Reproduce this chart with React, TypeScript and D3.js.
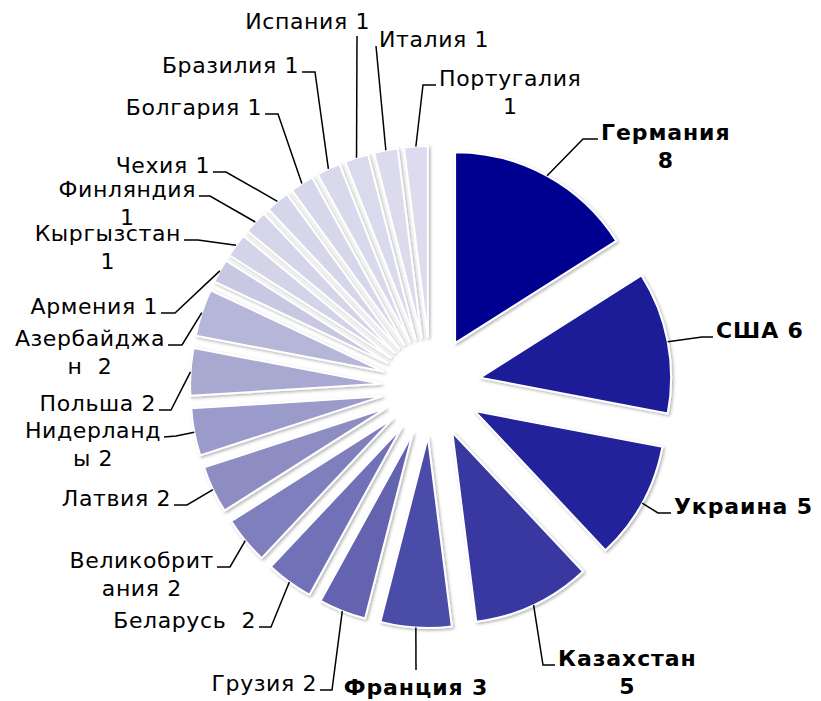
import { useEffect, useRef } from 'react';
import * as d3 from 'd3';

// Country names (trailing space where the source label has a double space)
const countries = [
  'Германия', 'США', 'Украина', 'Казахстан', 'Франция', 'Грузия', 'Беларусь ',
  'Великобритания', 'Латвия', 'Нидерланды', 'Польша', 'Азербайджан ', 'Армения',
  'Кыргызстан', 'Финляндия', 'Чехия', 'Болгария', 'Бразилия', 'Испания', 'Италия', 'Португалия',
];
const values = [8, 6, 5, 5, 3, 2, 2, 2, 2, 2, 2, 2, 1, 1, 1, 1, 1, 1, 1, 1, 1];
const boldCountries = ['Германия', 'США', 'Украина', 'Казахстан', 'Франция'];

const W = 821;
const H = 701;
const CX = 431;
const CY = 387;
const RADIUS = 191;
const EXPLODE = 50;
const LINE_H = 28;

// colour ramp along slice index
const colorStops = [0, 1, 2, 3, 4, 5, 11, 12, 13, 20];
const colorRange = ['#000090', '#1c1c99', '#21219b', '#3838a0', '#4b4ba8', '#6363b0', '#b6b6d8', '#c8c8e2', '#d4d4e9', '#dcdcee'];

type Side = 'L' | 'R' | 'B' | 'T';
interface LabelLayout {
  pts: [number, number][]; // leader vertices after the slice anchor; last one is the tip
  side: Side;
  wrap?: number;
}

// label placement (Excel-style best fit)
const labelLayout: Record<string, LabelLayout> = {
  'Германия': { pts: [[583, 139], [598, 139]], side: 'R', wrap: 8 },
  'США': { pts: [[702, 337], [713, 337]], side: 'R' },
  'Украина': { pts: [[658, 513], [671, 513]], side: 'R' },
  'Казахстан': { pts: [[543, 665], [555, 665]], side: 'R', wrap: 9 },
  'Франция': { pts: [[416, 670]], side: 'B' },
  'Грузия': { pts: [[332, 690], [320, 690]], side: 'L' },
  'Беларусь ': { pts: [[271, 627], [259, 627]], side: 'L' },
  'Великобритания': { pts: [[230, 567], [217, 567]], side: 'L', wrap: 10 },
  'Латвия': { pts: [[187, 505], [174, 505]], side: 'L' },
  'Нидерланды': { pts: [[176, 436], [164, 437]], side: 'L', wrap: 9 },
  'Польша': { pts: [[171, 410], [159, 410]], side: 'L' },
  'Азербайджан ': { pts: [[182, 345], [168, 345]], side: 'L', wrap: 10 },
  'Армения': { pts: [[175, 313], [161, 313]], side: 'L' },
  'Кыргызстан': { pts: [[198, 240], [184, 240]], side: 'L', wrap: 10 },
  'Финляндия': { pts: [[210, 196], [199, 196]], side: 'L', wrap: 9 },
  'Чехия': { pts: [[226, 172], [213, 172]], side: 'L' },
  'Болгария': { pts: [[278, 114], [265, 114]], side: 'L' },
  'Бразилия': { pts: [[315, 72], [302, 72]], side: 'L' },
  'Испания': { pts: [[357, 36]], side: 'T' },
  'Италия': { pts: [[376, 46]], side: 'R' },
  'Португалия': { pts: [[423, 85], [436, 85]], side: 'R', wrap: 10 },
};

interface Datum {
  name: string;
  value: number;
  index: number;
}

export default function App() {
  const svgRef = useRef<SVGSVGElement>(null);

  useEffect(() => {
    if (!svgRef.current) return;
    const svg = d3.select(svgRef.current);
    svg.selectAll('*').remove();

    const data: Datum[] = countries.map((name, i) => ({ name, value: values[i], index: i }));

    const color = d3
      .scaleLinear<string>()
      .domain(colorStops)
      .range(colorRange)
      .interpolate(d3.interpolateRgb);

    const pie = d3
      .pie<Datum>()
      .sort(null)
      .value((d) => d.value)
      .startAngle(0)
      .endAngle(2 * Math.PI);

    const arc = d3.arc<d3.PieArcDatum<Datum>>().innerRadius(0).outerRadius(RADIUS);

    const arcs = pie(data);

    const defs = svg.append('defs');
    const filter = defs
      .append('filter')
      .attr('id', 'shadow')
      .attr('x', '-20%')
      .attr('y', '-20%')
      .attr('width', '140%')
      .attr('height', '140%');
    filter
      .append('feDropShadow')
      .attr('dx', 1.5)
      .attr('dy', 1.5)
      .attr('stdDeviation', 1.5)
      .attr('flood-color', '#000')
      .attr('flood-opacity', 0.3);

    const midDir = (a: d3.PieArcDatum<Datum>) => {
      const m = (a.startAngle + a.endAngle) / 2;
      return [Math.sin(m), -Math.cos(m)];
    };

    // Slices, each pulled out along its mid angle
    const g = svg.append('g').attr('transform', `translate(${CX},${CY})`);
    g.selectAll('path.slice')
      .data(arcs)
      .join('path')
      .attr('class', 'slice')
      .attr('transform', (a) => {
        const [dx, dy] = midDir(a);
        return `translate(${dx * EXPLODE},${dy * EXPLODE})`;
      })
      .attr('d', arc)
      .attr('fill', (a) => color(a.data.index))
      .attr('stroke', '#fff')
      .attr('stroke-width', 2)
      .attr('stroke-linejoin', 'round')
      .attr('filter', 'url(#shadow)');

    // Leader lines
    const line = d3.line();
    const leaders = svg.append('g');
    arcs.forEach((a) => {
      const lay = labelLayout[a.data.name];
      if (!lay) return;
      const [dx, dy] = midDir(a);
      const anchor: [number, number] = [CX + dx * (EXPLODE + RADIUS), CY + dy * (EXPLODE + RADIUS)];
      leaders
        .append('path')
        .attr('d', line([anchor, ...lay.pts]))
        .attr('fill', 'none')
        .attr('stroke', '#000')
        .attr('stroke-width', 1.5);
    });

    // Labels
    const labels = svg
      .append('g')
      .style('font-family', '"DejaVu Sans", Verdana, sans-serif')
      .style('font-size', '22px');
    arcs.forEach((a) => {
      const lay = labelLayout[a.data.name];
      if (!lay) return;
      const full = `${a.data.name} ${a.data.value}`;
      const lines = lay.wrap ? [full.slice(0, lay.wrap).trim(), full.slice(lay.wrap).trim()] : [full];
      const bold = boldCountries.includes(a.data.name);
      const t = labels
        .append('text')
        .attr('fill', '#000')
        .style('white-space', 'pre')
        .style('letter-spacing', bold ? '0.9px' : '0.6px')
        .attr('font-weight', bold ? 'bold' : 'normal')
        .attr('text-anchor', 'middle');
      lines.forEach((ln, i) => {
        t.append('tspan').attr('x', 0).attr('y', i * LINE_H).text(ln);
      });
      const bw = (t.node() as SVGTextElement).getBBox().width;
      const [tx, ty] = lay.pts[lay.pts.length - 1];
      let cx = tx;
      let by = ty + 1;
      if (lay.side === 'L') cx = tx - 3 - bw / 2;
      else if (lay.side === 'R') cx = tx + 3 + bw / 2;
      else if (lay.side === 'B') by = ty + 25;
      else if (lay.side === 'T') {
        cx = tx + 13 - bw / 2;
        by = ty - 7;
      }
      t.attr('transform', `translate(${cx},${by})`);
    });
  }, []);

  return (
    <div style={{ position: 'absolute', left: 0, top: 0 }}>
      <svg ref={svgRef} width={W} height={H} style={{ display: 'block', background: '#fff' }} />
    </div>
  );
}
